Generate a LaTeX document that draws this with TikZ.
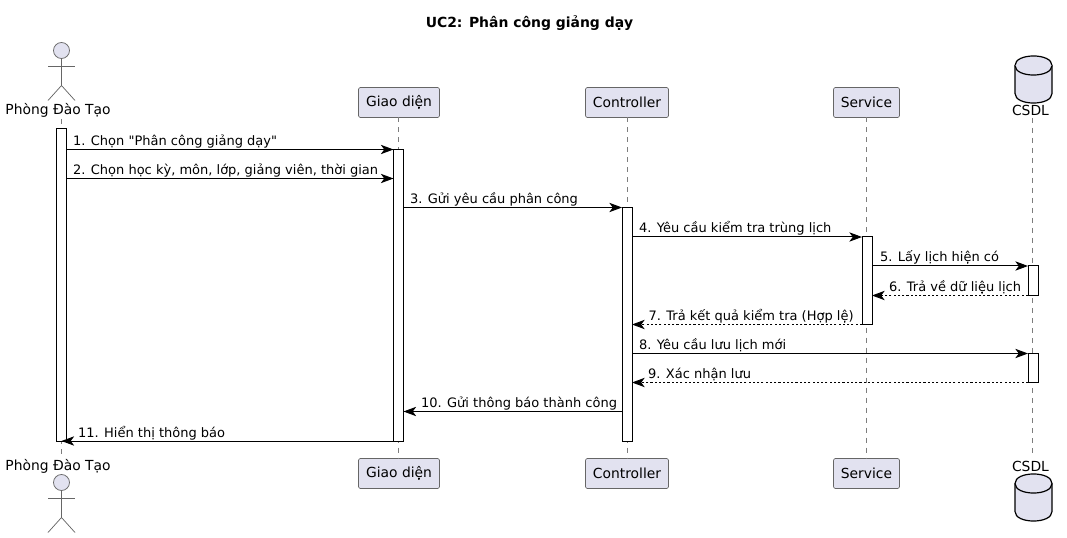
\documentclass[tikz,border=0pt]{standalone}
\usepackage{fontspec}
\setmainfont{DejaVu Sans}
\newfontfamily\plainfont{DejaVu Sans}
\usetikzlibrary{arrows.meta,fit}
\definecolor{partfill}{HTML}{E2E2F0}
\definecolor{partline}{HTML}{666666}
\tikzset{
  x=0.75pt,y=-0.75pt,
  box/.style={draw=partline,fill=partfill,rounded corners=1.5pt,line width=0.5pt,inner sep=0pt,outer sep=0pt,text=black,font=\fontsize{10.4pt}{12pt}\selectfont},
  actorname/.style={inner sep=0pt,outer sep=0pt,text=black,font=\fontsize{10.4pt}{12pt}\selectfont},
  stick/.style={draw=partline,line width=0.55pt},
  head/.style={draw=partline,fill=partfill,line width=0.55pt},
  cyl/.style={draw=black,fill=partfill,line width=0.9pt},
  life/.style={draw=partline!85,line width=0.5pt,dash pattern=on 3.75pt off 3.75pt},
  bar/.style={draw=black,fill=white,line width=0.75pt,inner sep=0pt,outer sep=0pt},
  msg/.style={draw=black,line width=0.75pt,-{Stealth[length=9.5pt,width=7pt,inset=2.6pt]}},
  ret/.style={msg,dash pattern=on 1.6pt off 1.6pt},
  lbl/.style={anchor=base west,inner sep=0pt,outer sep=0pt,text=black,font=\fontsize{9.75pt}{12pt}\selectfont},
  ttl/.style={inner sep=0pt,outer sep=0pt,text=black,font=\bfseries\fontsize{10.45pt}{12pt}\selectfont},
}
\newcommand{\stickman}[2]{%
  \draw[head] (#1,#2) circle (6pt);
  \draw[stick] (#1,#2+8) -- (#1,#2+35);
  \draw[stick] (#1-13.5,#2+15.5) -- (#1+13.5,#2+15.5);
  \draw[stick] (#1-13.5,#2+50) -- (#1,#2+35) -- (#1+13.5,#2+50);
}
\newcommand{\drum}[2]{%
  \draw[cyl] (#1,#2+9.5) .. controls (#1,#2-3.2) and (#1+37,#2-3.2) .. (#1+37,#2+9.5)
    -- (#1+37,#2+37.5) .. controls (#1+37,#2+50.2) and (#1,#2+50.2) .. (#1,#2+37.5) -- cycle;
  \draw[cyl] (#1,#2+9.5) .. controls (#1,#2+22.2) and (#1+37,#2+22.2) .. (#1+37,#2+9.5);
}
\begin{document}
\begin{tikzpicture}
\useasboundingbox (0,0) rectangle (1067,538);
\fill[white] (0,0) rectangle (1067,538);

\node[ttl] (title) at (529.5,23) {UC2: Phân công giảng dạy};

% y positions of the messages
\coordinate (m1) at (0,149.5);
\coordinate (m2) at (0,178.5);
\coordinate (m3) at (0,207.5);
\coordinate (m4) at (0,237);
\coordinate (m5) at (0,266);
\coordinate (m6) at (0,295.5);
\coordinate (m7) at (0,324.5);
\coordinate (m8) at (0,353.5);
\coordinate (m9) at (0,382.5);
\coordinate (m10) at (0,411.5);
\coordinate (m11) at (0,441);

% participants, top
\node[actorname] (pdtT) at (58,110.5) {Phòng Đào Tạo};
\node[box,fit={(358.5,87.5)(439.5,117.5)}] (gdT) {};
\node[box,fit={(585.5,87.5)(668.5,117.5)}] (ctT) {};
\node[box,fit={(833.5,87.5)(899.5,117.5)}] (svT) {};
\node[actorname] (dbT) at (1030.5,110.5) {CSDL};
% participants, bottom
\node[actorname] (pdtB) at (58,466.5) {Phòng Đào Tạo};
\node[box,fit={(358.5,458.5)(439.5,488.5)}] (gdB) {};
\node[box,fit={(585.5,458.5)(668.5,488.5)}] (ctB) {};
\node[box,fit={(833.5,458.5)(899.5,488.5)}] (svB) {};
\node[actorname] (dbB) at (1030.5,466.5) {CSDL};
\node[actorname] at (gdT.center) (gdTt) {Giao diện};
\node[actorname] at (ctT.center) (ctTt) {Controller};
\node[actorname] at (svT.center) (svTt) {Service};
\node[actorname] at (gdB.center) (gdBt) {Giao diện};
\node[actorname] at (ctB.center) (ctBt) {Controller};
\node[actorname] at (svB.center) (svBt) {Service};

% lifelines
\coordinate (lA) at (61.5,0);
\coordinate (lG) at (398.5,0);
\coordinate (lC) at (627,0);
\coordinate (lS) at (866.5,0);
\coordinate (lD) at (1032.5,0);
\draw[life] (lA |- 0,119) -- (lA |- 0,458);
\draw[life] (lG |- gdT.south) -- (lG |- gdB.north);
\draw[life] (lC |- ctT.south) -- (lC |- ctB.north);
\draw[life] (lS |- svT.south) -- (lS |- svB.north);
\draw[life] (lD |- 0,118) -- (lD |- 0,458);

% actor and database figures
\stickman{61.5}{50.5}
\stickman{61.5}{482.5}
\drum{1015}{56}
\drum{1015}{474}

% activation bars
\node[bar,fit={(56.5,129)(66.5,441)}] (barA) {};
\node[bar,fit={(393.5,149.5)(403.5,441)}] (barG) {};
\node[bar,fit={(622,207.5)(632,441)}] (barC) {};
\node[bar,fit={(862,237)(872,324.5)}] (barS) {};
\node[bar,fit={(1028,266)(1038,295.5)}] (barD1) {};
\node[bar,fit={(1028,353.5)(1038,382.5)}] (barD2) {};

% messages
\draw[msg] (barA.east |- m1) -- (barG.west |- m1);
\draw[msg] (barA.east |- m2) -- (barG.west |- m2);
\draw[msg] (barG.east |- m3) -- (barC.west |- m3);
\draw[msg] (barC.east |- m4) -- (barS.west |- m4);
\draw[msg] (barS.east |- m5) -- (barD1.west |- m5);
\draw[ret] (barD1.west |- m6) -- (barS.east |- m6);
\draw[ret] (barS.west |- m7) -- (barC.east |- m7);
\draw[msg] (barC.east |- m8) -- (barD2.west |- m8);
\draw[ret] (barD2.west |- m9) -- (barC.east |- m9);
\draw[msg] (barC.west |- m10) -- (barG.east |- m10);
\draw[msg] (barG.west |- m11) -- (lA |- m11);

% message labels
\node[lbl] (t1) at (73,145.5) {1. Chọn {\plainfont"}Phân công giảng dạy{\plainfont"}};
\node[lbl] (t2) at (73,174.5) {2. Chọn học kỳ, môn, lớp, giảng viên, thời gian};
\node[lbl] (t3) at (410,203.5) {3. Gửi yêu cầu phân công};
\node[lbl] (t4) at (639,233) {4. Yêu cầu kiểm tra trùng lịch};
\node[lbl] (t5) at (880,262) {5. Lấy lịch hiện có};
\node[lbl] (t6) at (889,291.5) {6. Trả về dữ liệu lịch};
\node[lbl] (t7) at (648.5,320.5) {7. Trả kết quả kiểm tra (Hợp lệ)};
\node[lbl] (t8) at (639,349.5) {8. Yêu cầu lưu lịch mới};
\node[lbl] (t9) at (648,378.5) {9. Xác nhận lưu};
\node[lbl] (t10) at (421,407.5) {10. Gửi thông báo thành công};
\node[lbl] (t11) at (78,437) {11. Hiển thị thông báo};
\end{tikzpicture}
\end{document}
